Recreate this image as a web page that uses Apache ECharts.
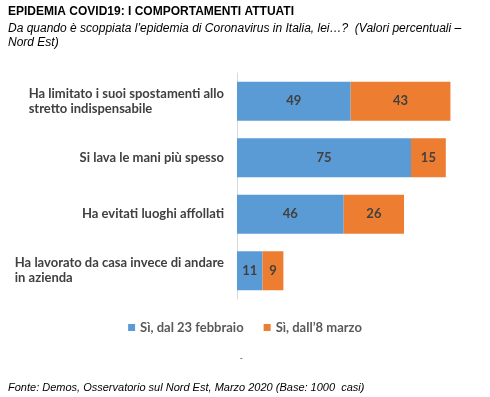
<!DOCTYPE html>
<html>
<head>
<meta charset="utf-8">
<script src="https://cdn.jsdelivr.net/npm/echarts@6/dist/echarts.min.js"></script>
<style>
  html, body { margin: 0; padding: 0; background: #fff; }
  #chart { width: 490px; height: 397px; }
</style>
</head>
<body>
<div id="chart"></div>
<script>
const categories = [
  'Ha limitato i suoi spostamenti allo\nstretto indispensabile',
  'Si lava le mani più spesso',
  'Ha evitati luoghi affollati',
  'Ha lavorato da casa invece di andare\nin azienda'
]
const seriesNames = ['Sì, dal 23 febbraio', 'Sì, dall\u20198 marzo']
const dal23Feb = [49, 75, 46, 11]
const dall8Mar = [43, 15, 26, 9]

const chart = echarts.init(document.getElementById('chart'))
const labelFont = {
  fontFamily: 'Lato',
  fontWeight: 'bold',
  fontSize: 13,
  color: '#404040'
}

chart.setOption({
  backgroundColor: '#fff',
  animation: false,
  title: [
    {
      text: 'EPIDEMIA COVID19: I COMPORTAMENTI ATTUATI',
      left: 8,
      top: 6,
      padding: 0,
      textStyle: { fontFamily: 'Liberation Sans', fontWeight: 'bold', fontSize: 12, color: '#000' }
    },
    {
      text: 'Da quando è scoppiata l\u2019epidemia di Coronavirus in Italia, lei\u2026?  (Valori percentuali \u2013\nNord Est)',
      left: 8,
      top: 22,
      padding: 0,
      textStyle: { fontFamily: 'Liberation Sans', fontStyle: 'italic', fontWeight: 'normal', fontSize: 12, lineHeight: 14, color: '#000' }
    },
    {
      text: 'Fonte: Demos, Osservatorio sul Nord Est, Marzo 2020 (Base: 1000  casi)',
      left: 8,
      top: 382,
      padding: 0,
      textStyle: { fontFamily: 'Liberation Sans', fontStyle: 'italic', fontWeight: 'normal', fontSize: 11, color: '#000' }
    },
    {
      text: '-',
      left: 240,
      top: 354,
      padding: 0,
      textStyle: { fontFamily: 'Liberation Sans', fontWeight: 'normal', fontSize: 8, color: '#000' }
    }
  ],
  legend: {
    data: seriesNames,
    left: 'center',
    top: 316,
    itemWidth: 7,
    itemHeight: 7,
    itemGap: 20,
    icon: 'rect',
    textStyle: { fontFamily: 'Lato', fontWeight: 'bold', fontSize: 13, color: '#595959' }
  },
  grid: {
    left: 237,
    top: 73,
    width: 232,
    height: 226
  },
  xAxis: {
    type: 'value',
    min: 0,
    max: 100,
    show: false
  },
  yAxis: {
    type: 'category',
    inverse: true,
    data: categories,
    axisLine: { show: true, lineStyle: { color: '#d9d9d9', width: 1 } },
    axisTick: { show: false },
    axisLabel: {
      margin: 13,
      align: 'right',
      formatter: function (value) {
        return value.split('\n').map(function (line) { return '{l|' + line + '}' }).join('\n')
      },
      rich: {
        l: Object.assign({ align: 'left', lineHeight: 15 }, labelFont)
      }
    }
  },
  series: [
    {
      name: seriesNames[0],
      type: 'bar',
      stack: 'tot',
      data: dal23Feb,
      barWidth: '69%',
      itemStyle: { color: '#5b9bd5' },
      label: Object.assign({ show: true, position: 'inside' }, labelFont)
    },
    {
      name: seriesNames[1],
      type: 'bar',
      stack: 'tot',
      data: dall8Mar,
      barWidth: '69%',
      itemStyle: { color: '#ed7d31' },
      label: Object.assign({ show: true, position: 'inside' }, labelFont)
    }
  ]
})
</script>
</body>
</html>
